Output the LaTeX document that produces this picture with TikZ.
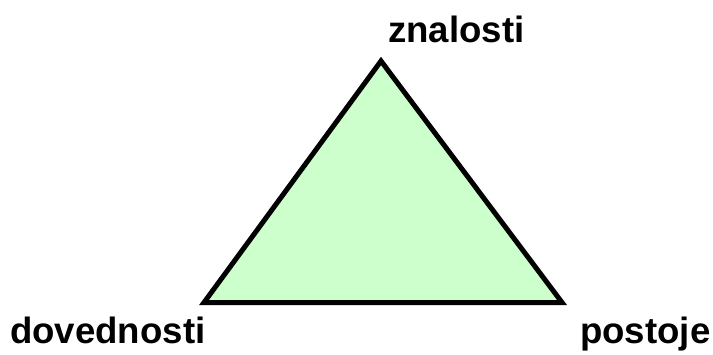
\documentclass[tikz,border=0pt]{standalone}
\usepackage{fontspec}
\setmainfont{Liberation Sans}
\usepackage{xcolor}
\usepackage{tikz}
\usetikzlibrary{positioning}
\definecolor{lightgreen}{HTML}{CCFFCC}

\begin{document}
\begin{tikzpicture}[x=1pt,y=1pt]
\tikzstyle{label}=[inner sep=0pt,font=\bfseries\fontsize{36.6}{44}\selectfont]
\useasboundingbox (0,0) rectangle (713,354);
\coordinate (Z) at (381,293);
\coordinate (D) at (204,51.5);
\coordinate (P) at (562,51.5);
\filldraw[fill=lightgreen,draw=black,line width=5pt,line join=miter] (Z) -- (D) -- (P) -- cycle;
\node[label,anchor=base west] (zn) at (388,311) {znalosti};
\node[label,anchor=base west] (dv) at (10,11) {dovednosti};
\node[label,anchor=base west] (ps) at (580,11) {postoje};
\end{tikzpicture}
\end{document}
